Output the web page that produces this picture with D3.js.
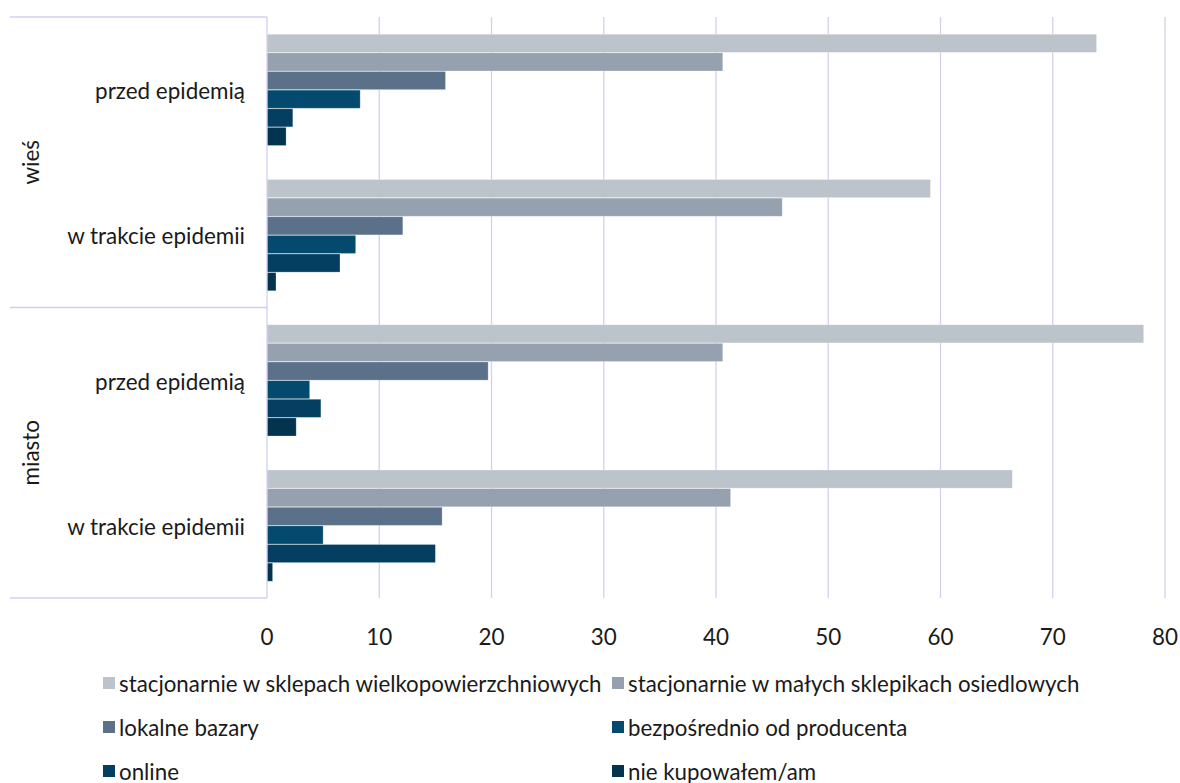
<!DOCTYPE html>
<html><head><meta charset="utf-8">
<script src="https://cdn.jsdelivr.net/npm/d3@7"></script>
<style>body{margin:0;background:#fff}svg{display:block}text{font-family:Lato,"Open Sans",sans-serif;fill:#1a1a1a}</style>
</head><body>
<svg id="c" width="1180" height="783"></svg>
<script>
const outerCats = ["wieś", "miasto"];
const innerCats = ["przed epidemią", "w trakcie epidemii"];
const groups = ["wieś|przed epidemią", "wieś|w trakcie epidemii", "miasto|przed epidemią", "miasto|w trakcie epidemii"];
const seriesNames = ["stacjonarnie w sklepach wielkopowierzchniowych", "stacjonarnie w małych sklepikach osiedlowych", "lokalne bazary", "bezpośrednio od producenta", "online", "nie kupowałem/am"];
const seriesColors = ["#BCC3CB", "#95A1AE", "#5A7189", "#044A6E", "#043F61", "#03344F"];
const sWielko = [73.9, 59.1, 78.1, 66.4];
const sMale = [40.6, 45.9, 40.6, 41.3];
const sBazary = [15.9, 12.1, 19.7, 15.6];
const sProducent = [8.3, 7.9, 3.8, 5.0];
const sOnline = [2.3, 6.5, 4.8, 15.0];
const sNie = [1.7, 0.8, 2.6, 0.5];
const seriesValues = [sWielko, sMale, sBazary, sProducent, sOnline, sNie];
const xTicks = [0, 10, 20, 30, 40, 50, 60, 70, 80];

const svg = d3.select("#c");
const L = 267, R = 1165, T = 17, B = 598;
const grid = "#D4CFF0";
const x = d3.scaleLinear().domain([0, 80]).range([L, R]);
const y0 = d3.scaleBand().domain(groups).range([T, B]).padding(0);
const y1 = d3.scaleBand().domain(d3.range(seriesNames.length)).range([0, y0.bandwidth()]).paddingInner(0).paddingOuter(0.9);

// gridlines
svg.append("g").selectAll("line").data(xTicks.filter(d => d > 0)).join("line")
  .attr("x1", d => x(d)).attr("x2", d => x(d)).attr("y1", T).attr("y2", B)
  .attr("stroke", grid).attr("stroke-width", 1.3);

// bars
const gG = svg.append("g").selectAll("g").data(groups).join("g")
  .attr("transform", d => `translate(0,${y0(d)})`);
gG.selectAll("rect").data((g, gi) => seriesValues.map((s, si) => ({si, v: s[gi]}))).join("rect")
  .attr("x", x(0)).attr("y", d => y1(d.si) + 0.5)
  .attr("width", d => x(d.v) - x(0)).attr("height", y1.bandwidth() - 0.5)
  .attr("fill", d => seriesColors[d.si])
  .attr("stroke", "rgba(255,255,255,0.3)").attr("stroke-width", 0.8);

// category axis lines
svg.append("line").attr("x1", L).attr("x2", L).attr("y1", T).attr("y2", B).attr("stroke", grid).attr("stroke-width", 1.3);
const sepYs = [T, y0(groups[2]), B];
svg.append("g").selectAll("line").data(sepYs).join("line")
  .attr("x1", 10).attr("x2", L).attr("y1", d => d).attr("y2", d => d)
  .attr("stroke", grid).attr("stroke-width", 1.3);

// fit font size
function fit(str, target, base) {
  const t = svg.append("text").style("font-size", base + "px").text(str);
  const w = t.node().getComputedTextLength(); t.remove();
  return base * target / w;
}
const fsLeg = fit(seriesNames[0], 483, 20);
const fsCat = fit(innerCats[1], 178, 20);

// x tick labels
svg.append("g").selectAll("text").data(xTicks).join("text")
  .attr("x", d => x(d)).attr("y", 636).attr("text-anchor", "middle").attr("dominant-baseline", "central")
  .style("font-size", fsCat + "px").text(d => d);

// inner labels
svg.append("g").selectAll("text").data(groups).join("text")
  .attr("x", 245).attr("y", d => y0(d) + y0.bandwidth() / 2 + 1).attr("text-anchor", "end").attr("dominant-baseline", "central")
  .style("font-size", fsCat + "px").text(d => d.split("|")[1]);

// outer labels
svg.append("g").selectAll("text").data(outerCats).join("text")
  .attr("transform", (d, i) => `translate(30,${(y0(groups[i*2]) + y0(groups[i*2+1]) + y0.bandwidth()) / 2}) rotate(-90)`)
  .attr("text-anchor", "middle").attr("dominant-baseline", "central")
  .style("font-size", fsCat + "px").text(d => d);

// legend
const legX = [103, 612], legY = [683, 727, 771];
const lg = svg.append("g").selectAll("g").data(seriesNames).join("g")
  .attr("transform", (d, i) => `translate(${legX[i % 2]},${legY[Math.floor(i / 2)]})`);
lg.append("rect").attr("x", 0).attr("y", -6).attr("width", 12).attr("height", 12).attr("fill", (d, i) => seriesColors[i]);
lg.append("text").attr("x", 16).attr("y", 0).attr("dominant-baseline", "central")
  .style("font-size", fsLeg + "px").text(d => d);
</script>
</body></html>
